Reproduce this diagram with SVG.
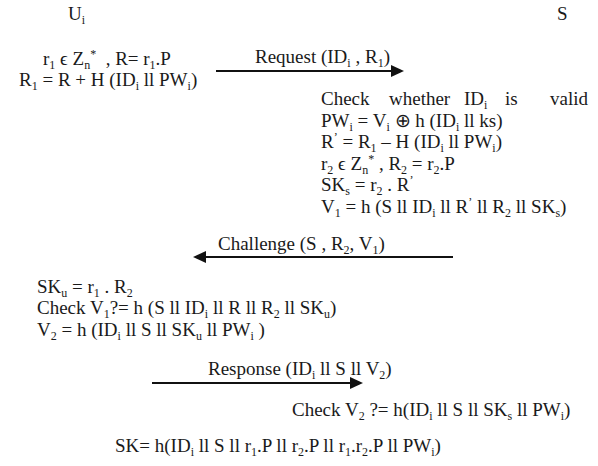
<svg xmlns="http://www.w3.org/2000/svg" width="598" height="466" viewBox="0 0 598 466">
<defs>
<style>
text{font-family:"Liberation Serif","Times New Roman",serif;font-size:19px;fill:#1a1a1a;white-space:pre}
.s{font-size:12px;baseline-shift:-4px}
.p{font-size:12px;baseline-shift:7px}
.msg{stroke:#111;stroke-width:2.2;fill:none}
</style>
<marker id="ah" markerUnits="userSpaceOnUse" markerWidth="13" markerHeight="12" refX="0" refY="6" orient="auto">
<path d="M0,0 L13,6 L0,12 z" fill="#111"/>
</marker>
</defs>
<rect width="598" height="466" fill="#fff"/>

<g id="user">
<text x="68" y="20">U<tspan class="s">i</tspan></text>
<text x="43" y="65">r<tspan class="s">1</tspan> ϵ Z<tspan class="s">n</tspan><tspan class="p">*</tspan>  , R= r<tspan class="s">1</tspan>.P</text>
<text x="19" y="86">R<tspan class="s">1</tspan> = R + H (ID<tspan class="s">i</tspan> ll PW<tspan class="s">i</tspan>)</text>
</g>

<g id="server">
<text x="557" y="20">S</text>
</g>

<g id="server-check">
<text x="321" y="105">Check</text>
<text x="389" y="105">whether</text>
<text x="464" y="105">ID<tspan class="s">i</tspan></text>
<text x="505" y="105">is</text>
<text x="550" y="105">valid</text>
<text x="321" y="126.5">PW<tspan class="s">i</tspan> = V<tspan class="s">i</tspan> ⊕ h (ID<tspan class="s">i</tspan> ll ks)</text>
<text x="321" y="148">R<tspan class="p">’</tspan> = R<tspan class="s">1</tspan> – H (ID<tspan class="s">i</tspan> ll PW<tspan class="s">i</tspan>)</text>
<text x="321" y="169.5">r<tspan class="s">2</tspan> ϵ Z<tspan class="s">n</tspan><tspan class="p">*</tspan> , R<tspan class="s">2</tspan> = r<tspan class="s">2</tspan>.P</text>
<text x="321" y="191">SK<tspan class="s">s</tspan> = r<tspan class="s">2</tspan> . R<tspan class="p">’</tspan></text>
<text x="321" y="212.5">V<tspan class="s">1</tspan> = h (S ll ID<tspan class="s">i</tspan> ll R<tspan class="p">’</tspan> ll R<tspan class="s">2</tspan> ll SK<tspan class="s">s</tspan>)</text>
</g>

<g id="user-check">
<text x="37" y="293">SK<tspan class="s">u</tspan> = r<tspan class="s">1</tspan> . R<tspan class="s">2</tspan></text>
<text x="37" y="314">Check V<tspan class="s">1</tspan>?= h (S ll ID<tspan class="s">i</tspan> ll R ll R<tspan class="s">2</tspan> ll SK<tspan class="s">u</tspan>)</text>
<text x="37" y="336">V<tspan class="s">2</tspan> = h (ID<tspan class="s">i</tspan> ll S ll SK<tspan class="s">u</tspan> ll PW<tspan class="s">i</tspan> )</text>
</g>

<g id="server-verify">
<text x="292" y="416">Check V<tspan class="s">2</tspan> ?= h(ID<tspan class="s">i</tspan> ll S ll SK<tspan class="s">s</tspan> ll PW<tspan class="s">i</tspan>)</text>
</g>

<g id="session-key">
<text x="115" y="452">SK= h(ID<tspan class="s">i</tspan> ll S ll r<tspan class="s">1</tspan>.P ll r<tspan class="s">2</tspan>.P ll r<tspan class="s">1</tspan>.r<tspan class="s">2</tspan>.P ll PW<tspan class="s">i</tspan>)</text>
</g>

<g id="connectors">
<line class="msg" x1="216" y1="71" x2="391" y2="71" marker-end="url(#ah)"/>
<text x="255" y="63">Request (ID<tspan class="s">i</tspan> , R<tspan class="s">1</tspan>)</text>
<line class="msg" x1="453" y1="257" x2="206" y2="257" marker-end="url(#ah)"/>
<text x="218" y="250">Challenge (S , R<tspan class="s">2</tspan>, V<tspan class="s">1</tspan>)</text>
<line class="msg" x1="152" y1="383" x2="350" y2="383" marker-end="url(#ah)"/>
<text x="208" y="375">Response (ID<tspan class="s">i</tspan> ll S ll V<tspan class="s">2</tspan>)</text>
</g>
</svg>
